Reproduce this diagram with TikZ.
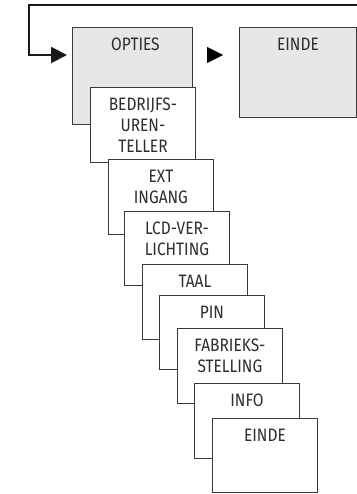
\documentclass[tikz,border=0pt]{standalone}
\usepackage{fontspec}
\setmainfont{Fira Sans}[FakeStretch=0.86]
\usetikzlibrary{arrows.meta,calc}
\definecolor{boxgray}{HTML}{E6E7E8}
\definecolor{linegray}{HTML}{3A3A3A}
\definecolor{txtgray}{HTML}{2E2E2E}
\tikzset{
  menubox/.style={draw=linegray, line width=0.9pt, fill=white, anchor=north west,
    minimum width=105pt, minimum height=75pt, inner sep=0pt},
  topbox/.style={menubox, fill=boxgray},
  boxtext/.style={anchor=north, inner sep=0pt, align=center, text=txtgray,
    font=\fontsize{18}{21}\selectfont},
  flow/.style={line width=2pt, draw=black!90},
  tip/.style={-{Triangle[length=16pt,width=16pt]}}
}
\begin{document}
\begin{tikzpicture}[x=1pt,y=-1pt]
\useasboundingbox (0,0) rectangle (356,494);
% top level
\node[topbox, minimum width=120pt, minimum height=97pt] (opties) at (72,27) {};
\node[boxtext] (toptxt) at ($(opties.north)+(3,11)$) {OPTIES};
\node[topbox, minimum width=117pt, minimum height=90pt] (einde) at (239,27) {};
\node[boxtext] (etoptxt) at ($(einde.north)+(0,11)$) {EINDE};
% loop
\coordinate (loopstart) at (357,5);
\coordinate (loopcorner) at (29,5);
\draw[flow, tip, shorten >=5pt] (loopstart) -- (loopcorner) |- ($(opties.north west)+(0,28)$);
% middle arrow
\draw[line width=0.1pt, tip, shorten <=15pt, shorten >=16pt]
  ($(opties.north east)+(0,28)$) -- ($(einde.north west)+(0,28)$);
% sub menu
\node[menubox] (b1) at (90,87) {};
\node[boxtext] (t1) at ($(b1.north)+(0,11)$) {BEDRIJFS-\\UREN-\\TELLER};
\node[menubox] (b2) at (108,159) {};
\node[boxtext] (t2) at ($(b2.north)+(0,11)$) {EXT\\INGANG};
\node[menubox, minimum height=74pt] (b3) at (124,211) {};
\node[boxtext] (t3) at ($(b3.north)+(0,11)$) {LCD-VER-\\LICHTING};
\node[menubox] (b4) at (142,264) {};
\node[boxtext] (t4) at ($(b4.north)+(0,11)$) {TAAL};
\node[menubox, minimum height=74pt] (b5) at (159,295) {};
\node[boxtext] (t5) at ($(b5.north)+(0,11)$) {PIN};
\node[menubox] (b6) at (177,328) {};
\node[boxtext] (t6) at ($(b6.north)+(0,11)$) {FABRIEKS-\\STELLING};
\node[menubox] (b7) at (194,383) {};
\node[boxtext] (t7) at ($(b7.north)+(0,11)$) {INFO};
\node[menubox, minimum height=74pt] (b8) at (212,418) {};
\node[boxtext] (t8) at ($(b8.north)+(0,11)$) {EINDE};
\end{tikzpicture}
\end{document}
